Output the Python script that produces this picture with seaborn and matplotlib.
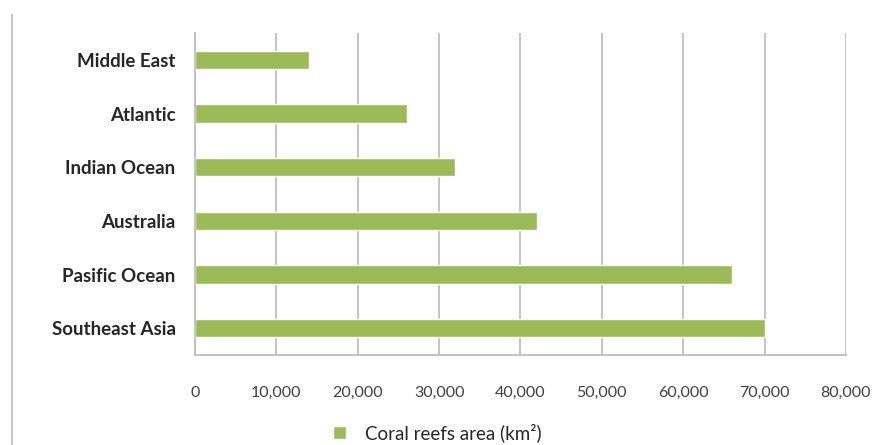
import pandas as pd
import matplotlib.pyplot as plt
from matplotlib.lines import Line2D
import seaborn as sns

regions = ["Middle East", "Atlantic", "Indian Ocean", "Australia",
           "Pasific Ocean", "Southeast Asia"]
area_km2 = [14000, 26000, 32000, 42000, 66000, 70000]
xticks = [0, 10000, 20000, 30000, 40000, 50000, 60000, 70000, 80000]

df = pd.DataFrame({"region": regions, "area": area_km2})

sns.set_style("white")
plt.rcParams['font.family'] = ['Lato', 'DejaVu Sans']

GREEN = "#9BBB59"
GRID = "#BFBFBF"

fig = plt.figure(figsize=(8.85, 4.45), dpi=100)
ax = fig.add_axes([0.2203, 0.2022, 0.7356, 0.7236])

sns.barplot(data=df, x="area", y="region", color=GREEN, width=0.34,
            saturation=1, label="Coral reefs area (km\u00b2)", ax=ax)

ax.set_xlim(0, 80000)
ax.set_xticks(xticks)
ax.set_xticklabels([f"{t:,}" for t in xticks], fontsize=11.5, color="#404040")
ax.set_ylim(5.5, -0.5)
ax.set_xlabel("")
ax.set_ylabel("")
for lab in ax.get_yticklabels():
    lab.set_fontweight("bold")
    lab.set_fontsize(13.5)
    lab.set_color("#262626")

# gridlines and axes in Excel-like gray
ax.grid(axis="x", color=GRID, linewidth=1.3)
ax.set_axisbelow(True)
for side in ["top", "right"]:
    ax.spines[side].set_visible(False)
ax.spines["left"].set_color(GRID)
ax.spines["bottom"].set_color(GRID)
ax.spines["left"].set_linewidth(1.3)
ax.spines["bottom"].set_linewidth(1.3)

# category boundary ticks on the y axis
ax.set_yticks([i - 0.5 for i in range(7)], minor=True)
ax.tick_params(axis="y", which="minor", length=5, color=GRID, width=1.3, direction="out")
ax.tick_params(axis="y", which="major", length=0, pad=14)
ax.tick_params(axis="x", length=4, color=GRID, width=1.3, direction="out", pad=18)

ax.legend(loc="center", bbox_to_anchor=(0.372, -0.24), frameon=False,
          handlelength=0.7, handleheight=0.7, handletextpad=1.0, fontsize=13.5,
          labelcolor="#262626")

# chart frame line on the left
fig.add_artist(Line2D([0.0136, 0.0136], [0.0, 0.966], color="#C8C8C8", linewidth=1.5))

fig.savefig("out.png", dpi=100)
